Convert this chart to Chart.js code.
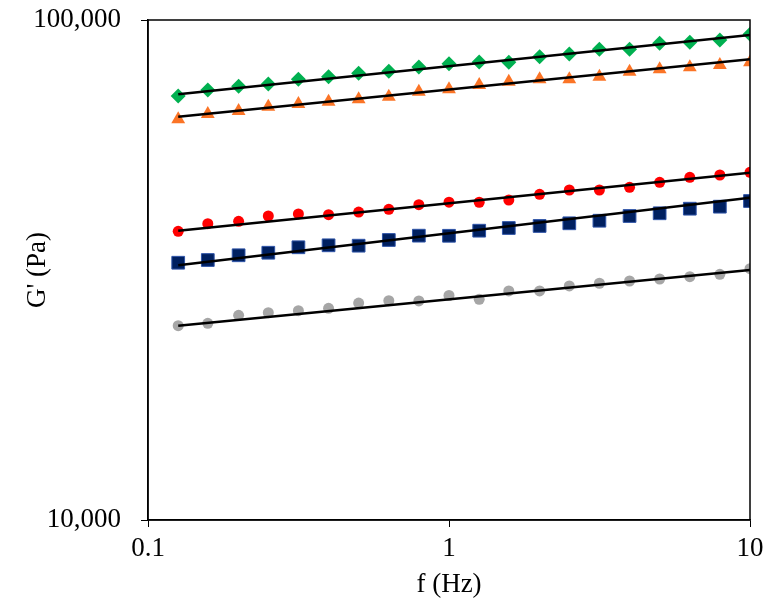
<!DOCTYPE html>
<html>
<head>
<meta charset="utf-8">
<script src="https://cdn.jsdelivr.net/npm/chart.js@4/dist/chart.umd.min.js"></script>
<style>
  body { margin: 0; background: #fff; }
  #wrap { width: 775px; height: 611px; }
</style>
</head>
<body>
<div id="wrap"><canvas id="chart" width="775" height="611"></canvas></div>
<script>
// frequency (Hz)
const freq = [0.126, 0.158, 0.2, 0.251, 0.316, 0.398, 0.501, 0.631, 0.794, 1,
              1.26, 1.58, 2, 2.51, 3.16, 3.98, 5.01, 6.31, 7.94, 10];

// G' (Pa) per sample
const greenG = [70470, 72440, 73690, 74470, 76100, 77020, 78240, 78960, 80540, 81770,
                82410, 82300, 84450, 85510, 87380, 87380, 89830, 90240, 91200, 93630];
const orangeG = [63290, 64860, 65770, 67080, 67920, 68640, 69400, 70240, 71870, 72670,
                 74130, 75270, 76100, 76100, 77020, 78820, 79700, 80430, 81280, 82300];
const redG = [37790, 39140, 39570, 40550, 40930, 40800, 41300, 41820, 42710, 43210,
              43200, 43650, 44810, 45710, 45710, 46280, 47360, 48460, 48980, 49590];
const navyG = [32700, 33110, 33840, 34240, 35110, 35430, 35370, 36310, 37040, 37020,
               37900, 38370, 38730, 39210, 39680, 40550, 41060, 41940, 42330, 43450];
const grayG = [24470, 24740, 25670, 25980, 26220, 26510, 27160, 27450, 27420, 28120,
               27630, 28710, 28710, 29380, 29750, 30060, 30340, 30660, 31000, 31810];

// power-law fit lines, value at first and last frequency
const fitFreq = [0.126, 10];
const greenFit = [71030, 93330];
const orangeFit = [64050, 83440];
const redFit = [37900, 49500];
const navyFit = [32310, 44120];
const grayFit = [24470, 31620];

const xTicks = [0.1, 1, 10];
const yTicks = [10000, 100000];

const toPts = (xs, ys) => xs.map((x, i) => ({x: x, y: ys[i]}));

function markers(ys, color, style, radius, border) {
    return {
        type: 'scatter',
        data: toPts(freq, ys),
        backgroundColor: color,
        borderColor: border || color,
        borderWidth: border ? 1 : 0,
        pointStyle: style,
        pointRadius: radius,
        showLine: false,
        order: 2
    };
}

function fit(ys) {
    return {
        type: 'line',
        data: toPts(fitFreq, ys),
        borderColor: '#000',
        borderWidth: 2.5,
        pointRadius: 0,
        fill: false,
        order: 1
    };
}

// box around the plot area
const frame = {
    id: 'frame',
    afterDraw(chart) {
        const a = chart.chartArea;
        const ctx = chart.ctx;
        ctx.save();
        ctx.strokeStyle = '#000';
        ctx.lineWidth = 1.5;
        ctx.strokeRect(a.left, a.top, a.right - a.left, a.bottom - a.top);
        ctx.restore();
    }
};

const serif = "'Liberation Serif', 'Times New Roman', serif";

new Chart(document.getElementById('chart'), {
    type: 'scatter',
    data: {
        datasets: [
            markers(greenG, '#00b050', 'rectRot', 7.5),
            markers(orangeG, '#fb7426', 'triangle', 8),
            markers(redG, '#ff0000', 'circle', 5.5),
            markers(navyG, '#002060', 'rect', 9, '#2e54a8'),
            markers(grayG, '#a6a6a6', 'circle', 5.5),
            fit(greenFit),
            fit(orangeFit),
            fit(redFit),
            fit(navyFit),
            fit(grayFit)
        ]
    },
    options: {
        responsive: false,
        animation: false,
        layout: { padding: { top: 20, right: 25, left: 0, bottom: 0 } },
        plugins: { legend: { display: false }, tooltip: { enabled: false } },
        scales: {
            x: {
                type: 'logarithmic',
                min: 0.1,
                max: 10,
                afterBuildTicks: s => { s.ticks = xTicks.map(v => ({value: v})); },
                afterFit: s => { s.height = 91; },
                ticks: {
                    color: '#000',
                    font: { family: serif, size: 27 },
                    padding: 6,
                    maxRotation: 0,
                    callback: v => String(v)
                },
                grid: { drawOnChartArea: false, tickLength: 7, color: '#000' },
                border: { color: '#000', width: 1.5 },
                title: {
                    display: true,
                    text: 'f (Hz)',
                    color: '#000',
                    font: { family: serif, size: 27 },
                    padding: { top: 0, bottom: 10 }
                }
            },
            y: {
                type: 'logarithmic',
                min: 10000,
                max: 100000,
                afterBuildTicks: s => { s.ticks = yTicks.map(v => ({value: v})); },
                afterFit: s => { s.width = 148; s.paddingTop = 0; s.paddingBottom = 0; },
                ticks: {
                    color: '#000',
                    font: { family: serif, size: 27 },
                    padding: 20,
                    callback: v => Number(v).toLocaleString('en-US')
                },
                grid: { drawOnChartArea: false, tickLength: 7, color: '#000' },
                border: { color: '#000', width: 1.5 },
                title: {
                    display: true,
                    text: "G' (Pa)",
                    color: '#000',
                    font: { family: serif, size: 27 },
                    padding: { top: 22, bottom: 0 }
                }
            }
        }
    },
    plugins: [frame]
});
</script>
</body>
</html>
